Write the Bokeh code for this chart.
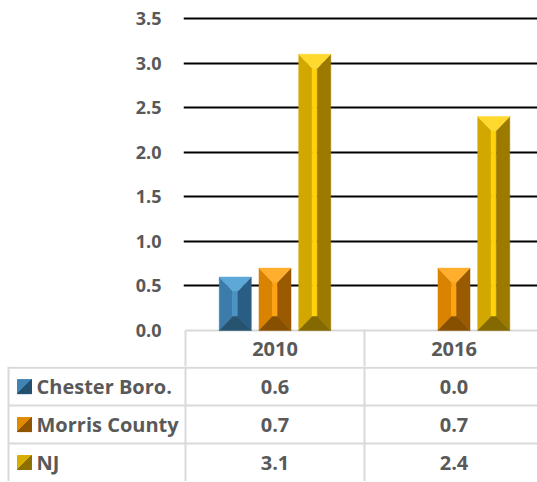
from bokeh.plotting import figure
from bokeh.models import Range1d, FixedTicker, PrintfTickFormatter
from bokeh.layouts import column
from bokeh.embed import file_html
from bokeh.resources import INLINE
from bokeh.core.properties import value

# ---------------- data ----------------
categories = ["2010", "2016"]
series_names = ["Chester Boro.", "Morris County", "NJ"]
chester_boro = [0.6, 0.0]
morris_county = [0.7, 0.7]
nj = [3.1, 2.4]
y_ticks = [0.0, 0.5, 1.0, 1.5, 2.0, 2.5, 3.0, 3.5]

series_values = [chester_boro, morris_county, nj]

# ---------------- styles ----------------
FONT = "Open Sans"
TXT = "#595959"
GRID_TABLE = "#D9D9D9"
# (left, inner, right, top, bottom) face colours for bevelled bars
face_colors = [
    ("#3B7CAA", "#4C93C4", "#2A5D84", "#5EA8D8", "#26536F"),
    ("#D98300", "#FFA20F", "#9A5A00", "#FFAE2E", "#865000"),
    ("#D2A800", "#FFD20A", "#9C7A00", "#FFD92E", "#846800"),
]
key_colors = [("#3F84B5", "#24506F"), ("#E08A00", "#8E5400"), ("#D8AE00", "#8C7000")]

W = 537
PX_X = 179.0              # pixels per category
PX_Y = 312.0 / 3.5        # pixels per value unit
FRAME_L = 183             # chart frame left edge (page px)
ORIGIN = 185              # page x of category axis start
TOP_PAD = 3               # px of frame above the top gridline
offsets = [-0.222, 0.0, 0.222]
bar_w = 0.179

# ---------------- chart figure ----------------
p = figure(width=W, height=366, output_backend="svg", toolbar_location=None,
           x_range=Range1d((FRAME_L - ORIGIN) / PX_X, (W - ORIGIN) / PX_X),
           y_range=Range1d(-36 / PX_Y, 3.5 + TOP_PAD / PX_Y),
           min_border_left=FRAME_L, min_border_right=0, min_border_top=18 - TOP_PAD,
           min_border_bottom=0, x_axis_location=None, frame_align=False)
p.outline_line_color = None
p.background_fill_color = "white"
p.border_fill_color = "white"
p.xgrid.visible = False
p.ygrid.ticker = FixedTicker(ticks=y_ticks[1:])
p.ygrid.grid_line_color = "black"
p.ygrid.grid_line_width = 2
p.yaxis.ticker = FixedTicker(ticks=y_ticks)
p.yaxis.formatter = PrintfTickFormatter(format="%.1f")
p.yaxis.axis_line_color = None
p.yaxis.major_tick_line_color = None
p.yaxis.minor_tick_line_color = None
p.yaxis.major_label_standoff = 16
p.yaxis.major_label_text_font = FONT
p.yaxis.major_label_text_font_style = "bold"
p.yaxis.major_label_text_font_size = "18px"
p.yaxis.major_label_text_color = TXT

y_bot = -36 / PX_Y
x_end = (W - ORIGIN) / PX_X
# table header borders
p.segment(x0=[0.0], y0=[0.0], x1=[x_end], y1=[0.0], line_color=GRID_TABLE, line_width=2)
p.segment(x0=[0.0, 1.0], y0=[0.0, 0.0], x1=[0.0, 1.0], y1=[y_bot, y_bot],
          line_color=GRID_TABLE, line_width=2)

# bevelled bars computed from the data
bv = 14 / PX_Y
for s, vals in enumerate(series_values):
    left, inner, right, top, bottom = face_colors[s]
    faces = {left: ([], []), inner: ([], []), right: ([], []), top: ([], []), bottom: ([], [])}
    for j, v in enumerate(vals):
        if v <= 0:
            continue
        xc = j + 0.5 + offsets[s]
        x0, x1 = xc - bar_w / 2, xc + bar_w / 2
        b = 0.42 * bar_w
        d = min(bv, v / 2.5)
        xi0, xi1 = x0 + b, x1 - b
        faces[left][0].append([x0, x0, xi0, xi0]); faces[left][1].append([0, v, v - d, d])
        faces[right][0].append([x1, x1, xi1, xi1]); faces[right][1].append([0, v, v - d, d])
        faces[inner][0].append([xi0, xi1, xi1, xi0]); faces[inner][1].append([d, d, v - d, v - d])
        faces[top][0].append([x0, x1, xi1, xi0]); faces[top][1].append([v, v, v - d, v - d])
        faces[bottom][0].append([x0, x1, xi1, xi0]); faces[bottom][1].append([0, 0, d, d])
    for col, (xs, ys) in faces.items():
        if xs:
            p.patches(xs=xs, ys=ys, fill_color=col, line_color=col, line_width=0.5)

p.text(x=[j + 0.5 for j in range(len(categories))], y=[-18 / PX_Y] * len(categories),
       text=categories, text_align="center", text_baseline="middle",
       text_font=value(FONT), text_font_style="bold", text_font_size="20px", text_color=TXT)

# ---------------- data table figure ----------------
T_H = 115
t = figure(width=W, height=T_H, output_backend="svg", toolbar_location=None,
           x_range=Range1d(-ORIGIN / PX_X, (W - ORIGIN) / PX_X), y_range=Range1d(3, -0.03),
           min_border_left=0, min_border_right=0, min_border_top=0, min_border_bottom=0,
           x_axis_location=None, y_axis_location=None, frame_align=False)
t.outline_line_color = None
t.xgrid.visible = False
t.ygrid.visible = False
t.border_fill_color = "white"

x_left = (8 - ORIGIN) / PX_X
t.segment(x0=[x_left] * 3, y0=[0, 1, 2], x1=[x_end] * 3, y1=[0, 1, 2],
          line_color=GRID_TABLE, line_width=2)
t.segment(x0=[x_left, 0.0, 1.0], y0=[-0.03] * 3, x1=[x_left, 0.0, 1.0], y1=[3] * 3,
          line_color=GRID_TABLE, line_width=2)

key_x = (24 - ORIGIN) / PX_X
hx, hy = 7 / PX_X, 7 / (T_H / 3.03)
for i, name in enumerate(series_names):
    yc = i + 0.5
    main, dark = key_colors[i]
    t.patch(x=[key_x - hx, key_x + hx, key_x + hx, key_x - hx],
            y=[yc - hy, yc - hy, yc + hy, yc + hy], fill_color=main, line_color=main)
    t.patch(x=[key_x + hx, key_x + hx, key_x - hx],
            y=[yc - hy, yc + hy, yc + hy], fill_color=dark, line_color=dark)

t.text(x=[(36 - ORIGIN) / PX_X] * len(series_names), y=[i + 0.5 for i in range(len(series_names))],
       text=series_names, text_align="left", text_baseline="middle",
       text_font=value(FONT), text_font_style="bold", text_font_size="20px", text_color=TXT)

for j in range(len(categories)):
    t.text(x=[j + 0.5] * len(series_values), y=[i + 0.5 for i in range(len(series_values))],
           text=["%.1f" % vals[j] for vals in series_values],
           text_align="center", text_baseline="middle",
           text_font=value(FONT), text_font_style="bold", text_font_size="20px", text_color=TXT)

layout = column(p, t, spacing=0)
open("out.html", "w").write(file_html(layout, INLINE))
